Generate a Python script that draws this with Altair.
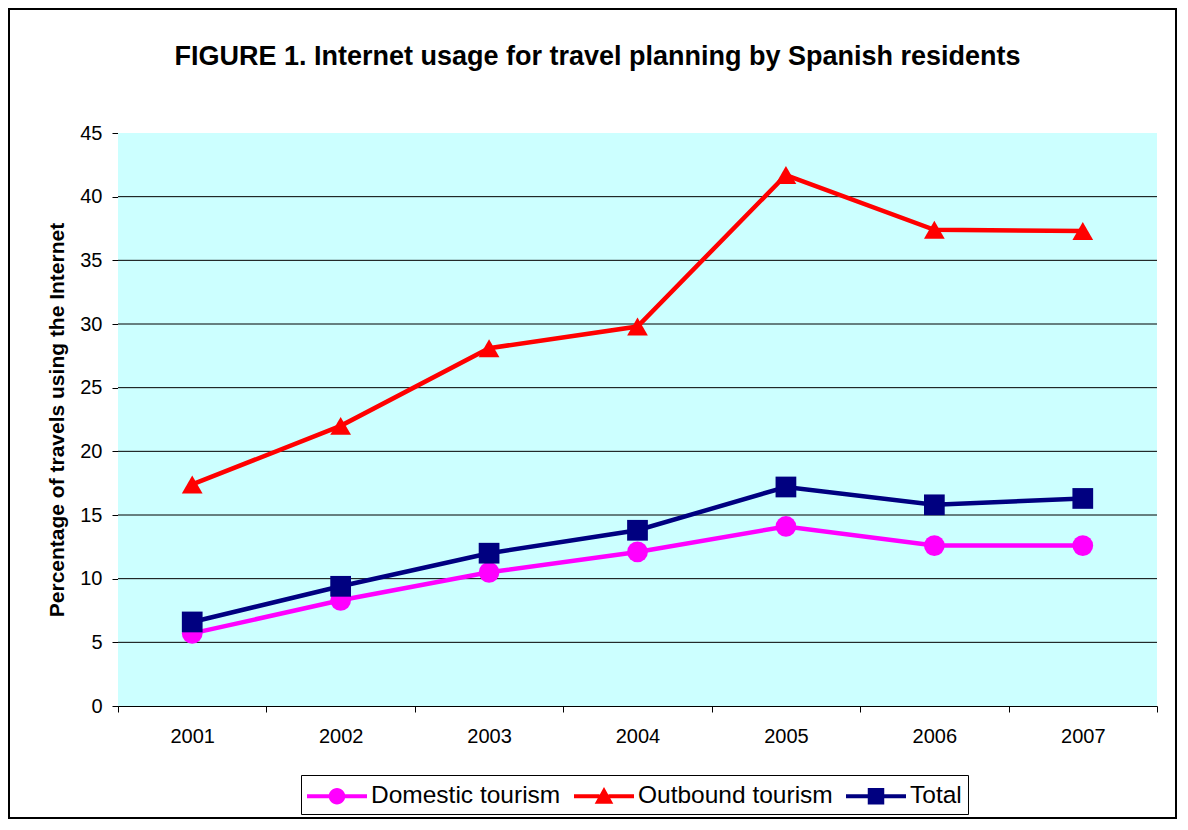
import altair as alt
import pandas as pd

years = ["2001", "2002", "2003", "2004", "2005", "2006", "2007"]
domestic = [5.7, 8.3, 10.5, 12.1, 14.1, 12.6, 12.6]
outbound = [17.4, 22.0, 28.1, 29.8, 41.7, 37.4, 37.3]
total = [6.6, 9.4, 12.0, 13.8, 17.2, 15.8, 16.3]

series_names = ["Domestic tourism", "Outbound tourism", "Total"]
series_colors = ["#FF00FF", "#FF0000", "#000080"]
marker_shapes = ["circle", "triangle-up", "square"]
y_ticks = [0, 5, 10, 15, 20, 25, 30, 35, 40, 45]
grid_values = [5, 10, 15, 20, 25, 30, 35, 40]

title_text = "FIGURE 1. Internet usage for travel planning by Spanish residents"
y_title = "Percentage of travels using the Internet"

# legend symbols: line segment + marker, all filled (same winding)
legend_paths = [
    "M-2,-0.133H-0.3V0.133H-2Z M0.3,-0.133H2V0.133H0.3Z "
    "M-0.55,0A0.55,0.55 0 1,1 0.55,0A0.55,0.55 0 1,1 -0.55,0Z",
    "M-2,-0.133H-0.3V0.133H-2Z M0.3,-0.133H2V0.133H0.3Z "
    "M0,-0.62L0.62,0.5L-0.62,0.5Z",
    "M-2,-0.133H-0.3V0.133H-2Z M0.3,-0.133H2V0.133H0.3Z "
    "M-0.55,-0.55H0.55V0.55H-0.55Z",
]

rows = []
for name, vals in zip(series_names, [domestic, outbound, total]):
    for yr, v in zip(years, vals):
        rows.append({"year": yr, "series": name, "value": v})
df = pd.DataFrame(rows)
grid_df = pd.DataFrame({"value": grid_values})

FONT = "Liberation Sans"
PLOT_BG = "#CCFFFF"

x_enc = alt.X(
    "year:N",
    sort=years,
    title=None,
    scale=alt.Scale(type="band", paddingInner=0, paddingOuter=0),
    axis=alt.Axis(
        labelAngle=0, labelFont=FONT, labelFontSize=20, labelColor="black",
        labelPadding=14, tickBand="extent", tickSize=6, tickColor="black",
        domainColor="black", grid=False,
    ),
)
y_scale = alt.Scale(domain=[0, 45], nice=False, zero=True)
y_enc = alt.Y(
    "value:Q",
    scale=y_scale,
    axis=alt.Axis(
        values=y_ticks, title=y_title, titleFont=FONT, titleFontSize=21,
        titleFontWeight="bold", titleColor="black", titleX=-55, titleY=286.5,
        titleAngle=-90, titleBaseline="alphabetic", titleAlign="center",
        labelFont=FONT, labelFontSize=20, labelColor="black", labelPadding=10,
        tickSize=6, tickColor="black", domainColor="black", grid=False,
    ),
)
color_enc = alt.Color(
    "series:N", scale=alt.Scale(domain=series_names, range=series_colors), legend=None
)

base = alt.Chart(df)
lines = base.mark_line(strokeWidth=4.5).encode(x=x_enc, y=y_enc, color=color_enc)
points = base.mark_point(filled=True, size=430, opacity=1).encode(
    x=x_enc,
    y=y_enc,
    color=color_enc,
    shape=alt.Shape(
        "series:N", scale=alt.Scale(domain=series_names, range=marker_shapes), legend=None
    ),
)

grid = (
    alt.Chart(grid_df)
    .mark_rule(color="black", strokeWidth=1)
    .encode(y=alt.Y("value:Q", scale=y_scale))
)

leg = alt.Legend(
    title=None, orient="none", legendX=183, legendY=642, direction="horizontal",
    columns=3, labelFont=FONT, labelFontSize=24.5, labelColor="black", labelLimit=0,
    symbolSize=900, symbolStrokeWidth=0, symbolOffset=15, labelOffset=19,
    columnPadding=13, padding=6, strokeColor="black", fillColor="white",
    symbolOpacity=1,
)
legend_df = pd.DataFrame({"legend_series": series_names})
legend_layer = (
    alt.Chart(legend_df)
    .transform_filter("false")
    .mark_point(filled=True, opacity=1)
    .encode(
        color=alt.Color(
            "legend_series:N",
            scale=alt.Scale(domain=series_names, range=series_colors),
            legend=leg,
        ),
        shape=alt.Shape(
            "legend_series:N",
            scale=alt.Scale(domain=series_names, range=legend_paths),
            legend=leg,
        ),
    )
)

one = pd.DataFrame({"f": [0]})
# plot-area background
plot_bg = (
    alt.Chart(one)
    .mark_rect(fill=PLOT_BG, strokeWidth=0)
    .encode(x=alt.value(0), x2=alt.value({"expr": "width"}),
            y=alt.value(0), y2=alt.value({"expr": "height"}))
)
# outer chart frame
frame = (
    alt.Chart(one)
    .mark_rect(fill="transparent", stroke="black", strokeWidth=2)
    .encode(x=alt.value(-109), x2=alt.value(1058), y=alt.value(-124), y2=alt.value(685))
)

chart = (
    alt.layer(frame, plot_bg, grid, lines, points, legend_layer)
    .resolve_scale(color="independent", shape="independent")
    .properties(
        width=1039,
        height=573,
        autosize=alt.AutoSizeParams(type="none"),
        padding={"left": 110, "top": 125, "right": 21, "bottom": 113},
        title=alt.TitleParams(
            title_text, font=FONT, fontSize=27, fontWeight="bold", color="black",
            anchor="middle", frame="group", dx=-40, offset=-84, baseline="alphabetic",
        ),
    )
    .configure(
        background="white",
        view=alt.ViewConfig(fill=PLOT_BG, stroke="transparent"),
    )
)

chart.save("out.html", embed_options={"renderer": "svg", "actions": False})
